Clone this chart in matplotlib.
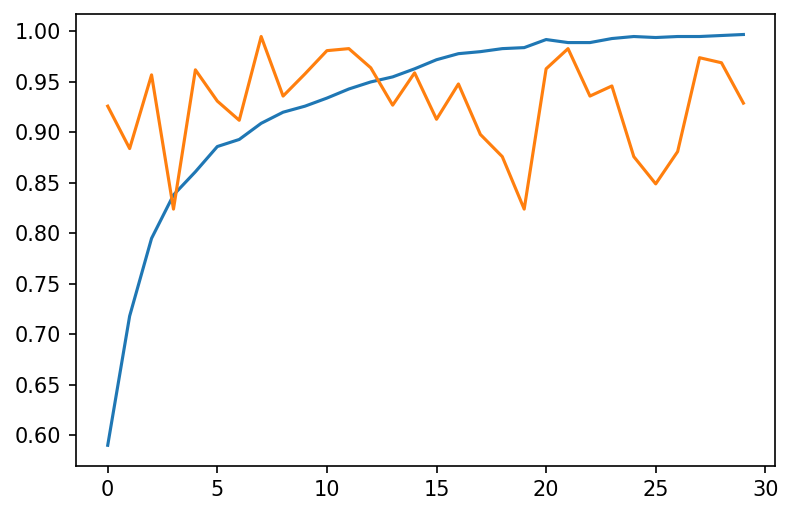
import matplotlib
matplotlib.use("Agg")
import matplotlib.pyplot as plt

epochs = list(range(30))
train_acc = [0.590, 0.718, 0.795, 0.838, 0.861, 0.886, 0.893, 0.909, 0.920, 0.926,
             0.934, 0.943, 0.950, 0.955, 0.963, 0.972, 0.978, 0.980, 0.983, 0.984,
             0.992, 0.989, 0.989, 0.993, 0.995, 0.994, 0.995, 0.995, 0.996, 0.997]
val_acc = [0.926, 0.884, 0.957, 0.824, 0.962, 0.931, 0.912, 0.995, 0.936, 0.958,
           0.981, 0.983, 0.964, 0.927, 0.959, 0.913, 0.948, 0.898, 0.876, 0.824,
           0.963, 0.983, 0.936, 0.946, 0.876, 0.849, 0.881, 0.974, 0.969, 0.929]

fig = plt.figure(figsize=(791 / 150, 517 / 150), dpi=150)
ax = fig.add_subplot(111)
fig.subplots_adjust(left=0.096, right=0.980, top=0.973, bottom=0.099)

ax.plot(epochs, train_acc)
ax.plot(epochs, val_acc)
ax.set_xticks([0, 5, 10, 15, 20, 25, 30])

fig.savefig("out.png", dpi=150)
